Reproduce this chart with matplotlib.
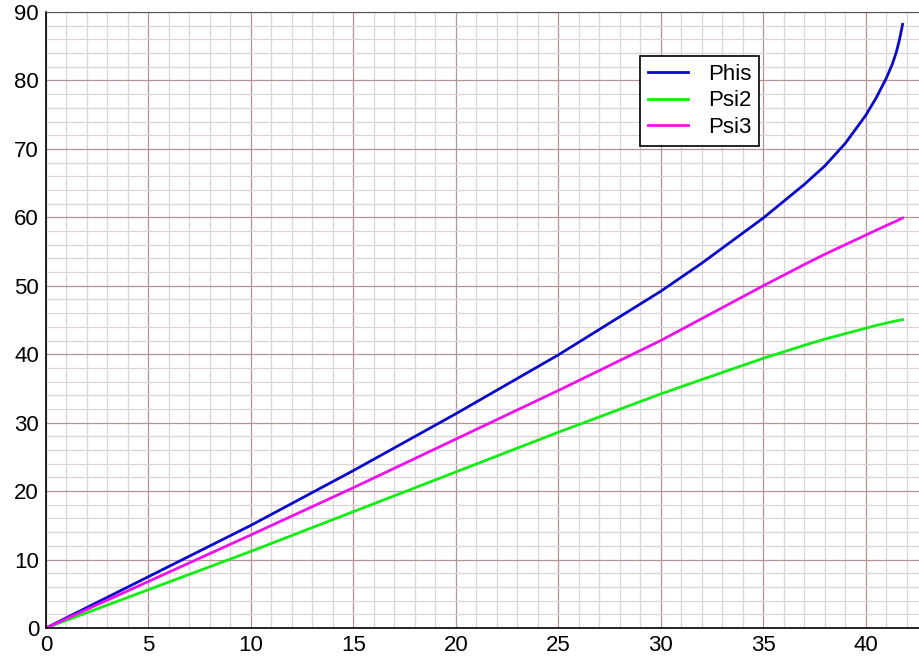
import matplotlib
matplotlib.use('Agg')
import matplotlib.pyplot as plt
from matplotlib.ticker import MultipleLocator

# values
x = [0, 5, 10, 15, 20, 25, 30, 32, 35, 37, 38, 39, 40, 40.5, 41, 41.3, 41.5, 41.65, 41.8]
phis = [0, 7.5, 15.0, 23.0, 31.3, 39.9, 49.2, 53.3, 59.9, 64.8, 67.5, 70.8, 74.9, 77.4, 80.3, 82.4, 84.2, 86.0, 88.2]
psi3 = [0, 6.8, 13.6, 20.5, 27.6, 34.7, 42.0, 45.2, 50.0, 53.1, 54.6, 56.0, 57.4, 58.1, 58.8, 59.2, 59.45, 59.7, 59.9]
psi2 = [0, 5.6, 11.2, 17.0, 22.8, 28.6, 34.2, 36.3, 39.4, 41.3, 42.2, 43.0, 43.8, 44.2, 44.55, 44.75, 44.88, 44.97, 45.05]

plt.rcParams['font.family'] = ['Liberation Sans', 'DejaVu Sans']

fig = plt.figure(figsize=(9.19, 6.64), dpi=100)
ax = fig.add_axes([46 / 919, 36 / 664, 873 / 919, 616 / 664])

ax.plot(x, phis, color='#0a0acc', lw=2, label='Phis')
ax.plot(x, psi2, color='#11ee11', lw=2, label='Psi2')
ax.plot(x, psi3, color='#ee11ee', lw=2, label='Psi3')

ax.set_xlim(0, 42.6)
ax.set_ylim(0, 90)
ax.xaxis.set_major_locator(MultipleLocator(5))
ax.xaxis.set_minor_locator(MultipleLocator(1))
ax.yaxis.set_major_locator(MultipleLocator(10))
ax.yaxis.set_minor_locator(MultipleLocator(2))
ax.grid(which='major', color='#b39494', lw=0.9)
ax.grid(which='minor', color='#ddd3d8', lw=0.9)
ax.set_axisbelow(True)
ax.tick_params(which='both', length=0, labelsize=16, pad=5)

ax.spines['right'].set_visible(False)
ax.spines['top'].set_color('#555555')
ax.spines['left'].set_color('black')
ax.spines['bottom'].set_color('black')
ax.spines['left'].set_linewidth(1.2)
ax.spines['bottom'].set_linewidth(1.2)

leg = ax.legend(loc='upper right', bbox_to_anchor=(0.817, 0.9286), fontsize=16,
                fancybox=False, framealpha=1, edgecolor='black',
                handlelength=1.8, handletextpad=0.9, borderpad=0.35,
                labelspacing=0.25, borderaxespad=0)
leg.get_frame().set_linewidth(1.2)

fig.savefig('out.png', dpi=100)
